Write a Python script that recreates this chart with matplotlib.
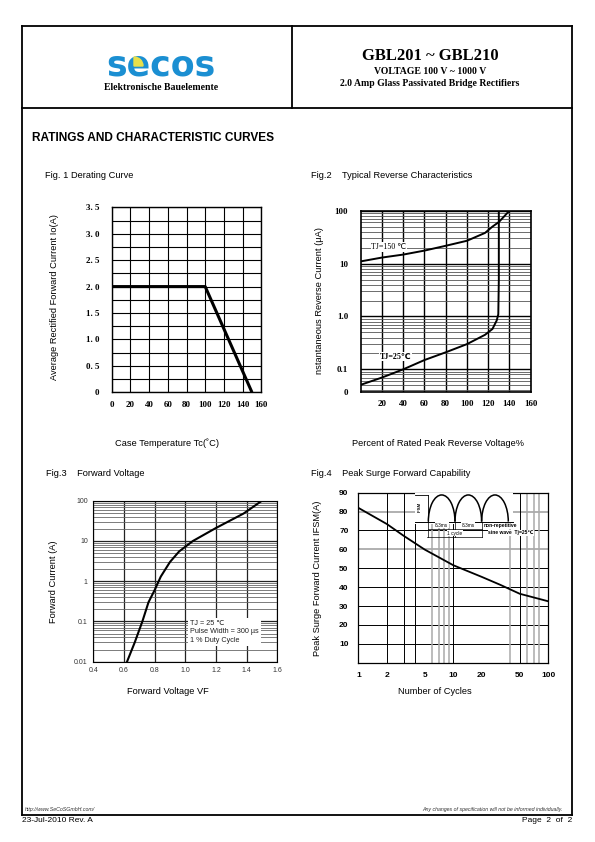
import numpy as np
import matplotlib
matplotlib.use('Agg')
import matplotlib.pyplot as plt
from matplotlib.patches import Rectangle, Wedge, Arc
from matplotlib.ticker import NullFormatter

plt.rcParams['font.family'] = ['Liberation Sans', 'DejaVu Sans']
SERIF = ['Liberation Serif', 'DejaVu Sans']

# Fig.1 derating curve
case_temp = [0, 100, 150]
io_avg = [2.0, 2.0, 0.0]
fig1_xticks = [0, 20, 40, 60, 80, 100, 120, 140, 160]
fig1_yticks = [0, 0.5, 1.0, 1.5, 2.0, 2.5, 3.0, 3.5]
fig1_ylabels = ['0', '0. 5', '1. 0', '1. 5', '2. 0', '2. 5', '3. 0', '3. 5']

# Fig.2 typical reverse characteristics
pct_150 = [0, 20, 40, 60, 80, 100, 117, 124, 130, 135, 140]
ir_150 = [11, 13, 14.8, 17.6, 21.7, 27, 38, 50, 61, 78, 100]
pct_25 = [0, 20, 40, 60, 80, 100, 117, 124, 128, 129.5, 130, 130]
ir_25 = [0.051, 0.07, 0.1, 0.15, 0.21, 0.30, 0.45, 0.58, 0.84, 1.1, 5, 100]
fig2_xticks = [20, 40, 60, 80, 100, 120, 140, 160]
fig2_yticks = [0.0378, 0.1, 1, 10, 100]
fig2_ylabels = ['0', '0.1', '1.0', '10', '100']

# Fig.3 forward voltage
vf = [0.62, 0.67, 0.72, 0.76, 0.80, 0.84, 0.90, 0.96, 1.05, 1.20, 1.38, 1.50]
i_fwd = [0.01, 0.03, 0.1, 0.3, 0.6, 1.3, 3, 5.5, 10, 21, 48, 100]
fig3_xticks = [0.4, 0.6, 0.8, 1.0, 1.2, 1.4, 1.6]
fig3_yticks = [0.01, 0.1, 1, 10, 100]
fig3_ylabels = ['0.01', '0.1', '1', '10', '100']

# Fig.4 peak surge forward capability
cycles = [1, 2, 3, 5, 10, 20, 31, 50, 100]
ifsm = [82, 73.4, 67.2, 59.9, 51.6, 45.4, 41.3, 36.5, 32.5]
fig4_xticks = [1, 2, 5, 10, 20, 50, 100]
fig4_yticks = [10, 20, 30, 40, 50, 60, 70, 80, 90]
fig4_grid_dark = [2, 3, 4, 10, 50, 100]
fig4_grid_light = [6, 7, 8, 9, 40, 60, 70, 80]

W, H = 595, 842
fig = plt.figure(figsize=(W / 100, H / 100), dpi=100)


def box(l, t, r, b):
    return [l / W, 1 - b / H, (r - l) / W, (b - t) / H]


# page layer in pixel units
page = fig.add_axes([0, 0, 1, 1])
page.set_xlim(0, W)
page.set_ylim(H, 0)
page.axis('off')

lw_frame = 1.3
page.plot([22, 22], [26, 815], color='k', lw=lw_frame)
page.plot([572, 572], [26, 815], color='k', lw=lw_frame)
page.plot([22, 572], [26, 26], color='k', lw=lw_frame)
page.plot([22, 572], [108, 108], color='k', lw=lw_frame)
page.plot([22, 572], [815, 815], color='k', lw=lw_frame)
page.plot([292, 292], [26, 108], color='k', lw=lw_frame)

# logo
page.text(161, 76, 'secos', color='#1b8fd2', fontsize=25, fontweight='heavy',
          family='DejaVu Sans', ha='center', va='baseline')
page.add_patch(Wedge((134, 66), 9, 270, 360, color='#e8e04a', zorder=3))
page.text(161, 87, 'Elektronische Bauelemente', family=SERIF, fontweight='bold',
          fontsize=7, ha='center', va='center')

page.text(430, 56, 'GBL201 ~ GBL210', family=SERIF, fontweight='bold',
          fontsize=12, ha='center', va='center')
page.text(430, 71.5, 'VOLTAGE 100 V ~ 1000 V', family=SERIF, fontweight='bold',
          fontsize=7, ha='center', va='center')
page.text(430, 83.5, '2.0 Amp Glass Passivated Bridge Rectifiers', family=SERIF,
          fontweight='bold', fontsize=7, ha='center', va='center')

page.text(32, 138, 'RATINGS AND CHARACTERISTIC CURVES', fontweight='bold',
          fontsize=8.6, ha='left', va='center')

# footer
page.text(25, 809, 'http://www.SeCoSGmbH.com/', fontsize=3.8, style='italic',
          color='#333333', ha='left', va='center')
page.text(563, 809, 'Any changes of specification will not be informed individually.',
          fontsize=3.8, style='italic', color='#333333', ha='right', va='center')
page.text(22, 821, '23-Jul-2010 Rev. A', fontsize=6, ha='left', va='center')
page.text(572, 821, 'Page  2  of  2', fontsize=6, ha='right', va='center')

# titles and axis labels
page.text(45, 175, 'Fig. 1 Derating Curve', fontsize=6.7, va='center')
page.text(311, 175, 'Fig.2    Typical Reverse Characteristics', fontsize=6.7, va='center')
page.text(46, 474, 'Fig.3    Forward Voltage', fontsize=6.7, va='center')
page.text(311, 474, 'Fig.4    Peak Surge Forward Capability', fontsize=6.7, va='center')

page.text(55, 297, 'Average Rectified Forward Current Io(A)', fontsize=6.7,
          rotation=90, ha='center', va='center')
page.text(167, 443, 'Case Temperature Tc(\u02daC)', fontsize=6.7, ha='center', va='center')
page.text(320, 301, 'nstantaneous Reverse Current (\u03bcA)', fontsize=6.7,
          rotation=90, ha='center', va='center')
page.text(438, 443, 'Percent of Rated Peak Reverse Voltage%', fontsize=6.7,
          ha='center', va='center')
page.text(54, 582, 'Forward Current (A)', fontsize=6.7, rotation=90,
          ha='center', va='center')
page.text(168, 692, 'Forward Voltage VF', fontsize=6.7, ha='center', va='center')
page.text(318, 578, 'Peak Surge Forward Current IFSM(A)', fontsize=6.7,
          rotation=90, ha='center', va='center')
page.text(435, 692, 'Number of Cycles', fontsize=6.7, ha='center', va='center')

# ---------- Fig.1
ax1 = fig.add_axes(box(111.7, 207.3, 261.3, 392.3))
ax1.plot(case_temp, io_avg, color='k', lw=2.2, solid_capstyle='butt', zorder=3)
ax1.set_xlim(0, 160)
ax1.set_ylim(0, 3.5)
ax1.set_xticks(fig1_xticks)
ax1.set_yticks(fig1_yticks)
ax1.set_yticks(np.arange(0.25, 3.5, 0.5), minor=True)
ax1.set_yticklabels(fig1_ylabels)
ax1.grid(True, which='both', color='k', lw=0.8)
ax1.tick_params(which='both', length=0, labelsize=6.5, pad=9)
ax1.tick_params(axis='x', pad=6)
for lab in ax1.get_xticklabels() + ax1.get_yticklabels():
    lab.set_family(SERIF)
    lab.set_fontweight('bold')
for s in ax1.spines.values():
    s.set_linewidth(1.0)

# ---------- Fig.2
ax2 = fig.add_axes(box(360.7, 210.7, 530.7, 391.7))
ax2.set_yscale('log')
ax2.plot(pct_150, ir_150, color='k', lw=1.4, zorder=3)
ax2.plot(pct_25, ir_25, color='k', lw=1.4, zorder=3)
ax2.set_xlim(0, 160)
ax2.set_ylim(0.0378, 100)
ax2.set_xticks(fig2_xticks)
ax2.set_yticks(fig2_yticks)
ax2.set_yticklabels(fig2_ylabels)
minor2 = [k * 10.0 ** e for e in range(-2, 2) for k in range(2, 10)]
ax2.set_yticks([m for m in minor2 if 0.0378 < m < 100], minor=True)
ax2.yaxis.set_minor_formatter(NullFormatter())
ax2.grid(True, which='major', color='k', lw=1.0)
ax2.grid(True, which='minor', axis='y', color='#555555', lw=0.6)
ax2.tick_params(which='both', length=0, labelsize=6.5, pad=9)
ax2.tick_params(axis='x', pad=6)
for lab in ax2.get_xticklabels() + ax2.get_yticklabels():
    lab.set_family(SERIF)
    lab.set_fontweight('bold')
for s in ax2.spines.values():
    s.set_linewidth(1.2)
ax2.text(10, 20.7, 'TJ=150 \u2103', fontsize=5.8, family=SERIF,
         va='center', ha='left', zorder=4,
         bbox=dict(facecolor='white', edgecolor='none', pad=0.5))
ax2.text(18, 0.173, 'TJ=25\u2103', fontsize=5.8, family=SERIF,
         fontweight='bold', va='center', ha='left', zorder=4,
         bbox=dict(facecolor='white', edgecolor='none', pad=0.5))

# ---------- Fig.3
ax3 = fig.add_axes(box(93.3, 500.7, 277.3, 661.7))
ax3.set_yscale('log')
ax3.plot(vf, i_fwd, color='k', lw=1.5, zorder=3)
ax3.set_xlim(0.4, 1.6)
ax3.set_ylim(0.01, 100)
ax3.set_xticks(fig3_xticks)
ax3.set_xticklabels(['%.1f' % v for v in fig3_xticks])
ax3.set_yticks(fig3_yticks)
ax3.set_yticklabels(fig3_ylabels)
minor3 = [k * 10.0 ** e for e in range(-2, 2) for k in range(2, 10)]
ax3.set_yticks(minor3, minor=True)
ax3.yaxis.set_minor_formatter(NullFormatter())
ax3.grid(True, which='major', color='#222222', lw=0.9)
ax3.grid(True, which='minor', axis='y', color='#666666', lw=0.6)
ax3.tick_params(which='both', length=0, labelsize=5, pad=4, labelcolor='#333333')
for s in ax3.spines.values():
    s.set_linewidth(0.8)
ax3.text(1.03, 0.055, 'TJ = 25 \u2103\nPulse Width = 300 \u00b5s\n1 % Duty Cycle',
         fontsize=5.2, color='#222222', va='center', ha='left', linespacing=1.35,
         zorder=4, bbox=dict(facecolor='white', edgecolor='none', pad=1.5))

# ---------- Fig.4
ax4 = fig.add_axes(box(358.3, 492.7, 548.3, 662.7))
ax4.set_xscale('log')
ax4.plot(cycles, ifsm, color='k', lw=1.3, zorder=3)
ax4.set_xlim(1, 100)
ax4.set_ylim(0, 90)
ax4.set_xticks(fig4_xticks)
ax4.set_xticklabels([str(v) for v in fig4_xticks])
ax4.xaxis.set_minor_formatter(NullFormatter())
ax4.set_xticks([], minor=True)
ax4.set_yticks(fig4_yticks)
for v in fig4_yticks[:-1]:
    if v in (60, 80):
        ax4.axhline(v, color='#aaaaaa', lw=1.3, zorder=1)
    else:
        ax4.axhline(v, color='k', lw=0.7, zorder=1)
for v in fig4_grid_dark:
    ax4.axvline(v, color='k', lw=0.7, zorder=1)
for v in fig4_grid_light:
    ax4.axvline(v, color='#aaaaaa', lw=1.1, zorder=1)
ax4.tick_params(which='both', length=0, labelsize=6, pad=7)
for lab in ax4.get_xticklabels() + ax4.get_yticklabels():
    lab.set_fontweight('bold')
for s in ax4.spines.values():
    s.set_linewidth(0.9)

# waveform sketch in Fig.4 (time in ms, amplitude relative to IFSM)
half_period = 8.3
ins = fig.add_axes(box(415, 493.3, 541.7, 538.3))
ins.set_xlim(-4.15, 35.3)
ins.set_ylim(-0.625, 1.0625)
ins.axis('off')
ins.patch.set_alpha(0)
ins.add_patch(Rectangle((-4.15, -0.07), 30.6, 1.14, facecolor='white',
                        edgecolor='none', zorder=1))
for i in range(3):
    ins.add_patch(Arc((half_period * (i + 0.5), 0), half_period, 2, theta1=0,
                      theta2=180, color='k', lw=1.1, zorder=3))
ins.plot([-4.15, 3 * half_period + 1.5], [0, 0], color='k', lw=0.7, zorder=3)
ins.plot([-4.15, 0], [1, 1], color='k', lw=0.6, zorder=3)
ins.plot([0, 0], [0, 1], color='k', lw=0.6, zorder=3)
ins.text(-2.7, 0.55, 'IFSM', fontsize=3.2, rotation=90, ha='center', va='center',
         fontweight='bold', zorder=4)
for xv in [0, half_period, 2 * half_period]:
    ins.plot([xv, xv], [0, -0.62], color='k', lw=0.5, zorder=3)
ins.plot([0, 2 * half_period], [-0.29, -0.29], color='k', lw=0.5, zorder=3)
ins.plot([-0.5, 2 * half_period], [-0.59, -0.59], color='k', lw=0.5, zorder=3)
ins.text(half_period / 2, -0.14, '8.3ms', fontsize=3.4, ha='center', va='center',
         zorder=4, bbox=dict(facecolor='white', edgecolor='none', pad=0.3))
ins.text(half_period * 1.5, -0.14, '8.3ms', fontsize=3.4, ha='center', va='center',
         zorder=4, bbox=dict(facecolor='white', edgecolor='none', pad=0.3))
ins.text(half_period, -0.43, '1 cycle', fontsize=3.4, ha='center', va='center',
         zorder=4, bbox=dict(facecolor='white', edgecolor='none', pad=0.3))
ins.text(22.5, -0.16, 'non-repetitive', fontsize=3.6, ha='center', va='center',
         fontweight='bold', zorder=4,
         bbox=dict(facecolor='white', edgecolor='none', pad=0.3))
ins.text(18.6, -0.42, 'sine wave  Tj=25\u2103', fontsize=3.6,
         ha='left', va='center', fontweight='bold', zorder=4,
         bbox=dict(facecolor='white', edgecolor='none', pad=0.3))

fig.savefig('out.png', dpi=100)
